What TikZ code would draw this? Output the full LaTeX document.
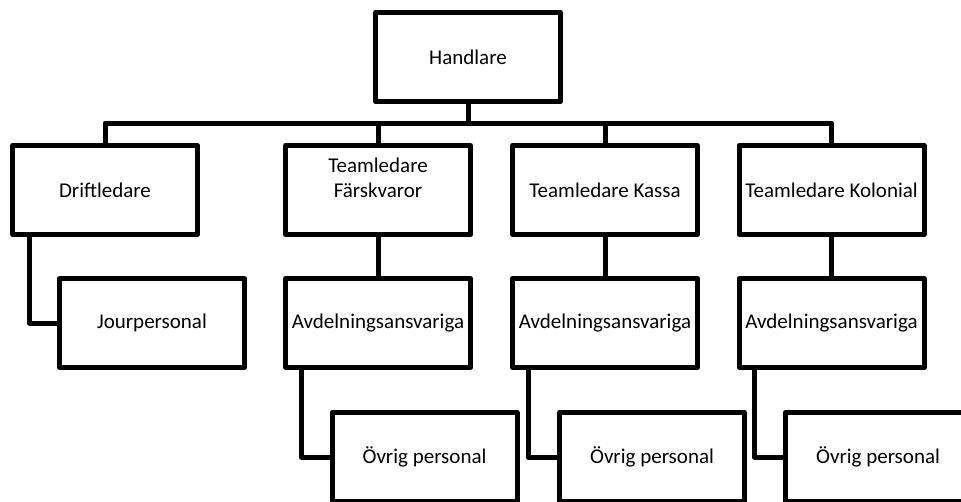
\documentclass[tikz,border=0pt]{standalone}
\usepackage{fontspec}
\setmainfont{Carlito}
\tikzset{
  box/.style={draw, line width=5pt, line join=round, minimum width=185pt, minimum height=89pt,
    inner sep=2pt, align=center, font=\fontsize{21pt}{25pt}\selectfont},
  link/.style={line width=5pt, line join=round}
}
\begin{document}
\begin{tikzpicture}[x=1pt,y=-1pt]
  \clip (0,0) rectangle (961,501);
  % top
  \node[box] (handlare) at (468,57) {Handlare};
  \coordinate (hub) at (468,123);
  % second row
  \node[box] (drift) at (105,190) {Driftledare};
  \node[box] (farsk) at (378,190) {Teamledare\\F\"arskvaror\\\mbox{}};
  \node[box] (kassa) at (605,190) {Teamledare Kassa};
  \node[box] (kolonial) at (831.5,190) {Teamledare Kolonial};
  % third row
  \node[box] (jour) at (152,323) {Jourpersonal};
  \node[box] (avdA) at (378,323) {Avdelningsansvariga};
  \node[box] (avdB) at (605,323) {Avdelningsansvariga};
  \node[box] (avdC) at (831.5,323) {Avdelningsansvariga};
  % fourth row
  \node[box] (ovrA) at (424.5,457) {\"Ovrig personal};
  \node[box] (ovrB) at (652,457) {\"Ovrig personal};
  \node[box] (ovrC) at (878,457) {\"Ovrig personal};
  % connectors
  \draw[link] (handlare.south) -- (hub);
  \draw[link] (drift.north) |- (hub) -| (kolonial.north);
  \foreach \t in {farsk,kassa}
    \draw[link] (\t.north) -- (\t.north |- hub);
  \foreach \t/\a in {farsk/avdA,kassa/avdB,kolonial/avdC}
    \draw[link] (\t.south) -- (\a.north);
  \draw[link] (drift.south west) ++(19.5,0) |- (jour.west);
  \foreach \a/\o in {avdA/ovrA,avdB/ovrB,avdC/ovrC}
    \draw[link] (\a.south west) ++(18,0) |- (\o.west);
\end{tikzpicture}
\end{document}
